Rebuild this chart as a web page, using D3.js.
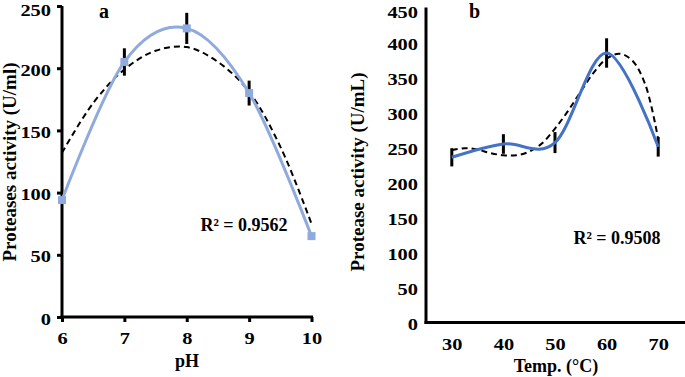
<!DOCTYPE html>
<html>
<head>
<meta charset="utf-8">
<script src="https://cdn.jsdelivr.net/npm/d3@7"></script>
<style>
  body { margin: 0; background: #fff; }
  svg { display: block; font-family: 'Liberation Serif', 'Times New Roman', serif; font-weight: bold; }
</style>
</head>
<body>
<div id="chart"></div>
<script>
// panel a: pH
const phValues = [6, 7, 8, 9, 10]
const phActivity = [94, 205, 232, 180, 65]
const phError = [0, 11, 12.5, 10, 0]
const phTrendX = [6, 6.5, 7, 7.5, 8, 8.5, 9, 9.5, 10]
const phTrendY = [132, 172, 199, 214, 217, 205, 181, 137, 75]
const phTicksY = [0, 50, 100, 150, 200, 250]

// panel b: temperature
const tempValues = [30, 40, 50, 60, 70]
const tempActivity = [236, 255, 257, 385, 251]
const tempError = [13, 14, 15, 21, 14]
const tempTrendX = [30, 32.5, 35, 37.5, 40, 42.5, 45, 47.5, 50, 52.5, 55, 57.5, 60, 62.5, 65, 67.5, 70]
const tempTrendY = [246, 249, 247, 242, 239, 239, 244, 256, 277, 302, 330, 357, 377, 384, 374, 340, 262]
const tempTicksY = [0, 50, 100, 150, 200, 250, 300, 350, 400, 450]

const W = 685
const H = 377

const svg = d3.select('#chart').append('svg')
  .attr('width', W)
  .attr('height', H)

// tick labels in the original are a bit wider than plain Times
function styleTicks (ax, vertical) {
  ax.select('.domain').remove()
  ax.selectAll('line').attr('stroke', '#000').attr('stroke-width', 3)
  ax.selectAll('text').each(function (d, i, nodes) {
    const t = d3.select(this)
    const tx = +t.attr('x') || 0
    const ty = +t.attr('y') || 0
    t.attr('x', 0).attr('y', 0)
      .attr('transform', `translate(${tx},${ty}) scale(1.2,1)`)
      .attr('fill', '#000')
      .style('font-size', '17px')
      .style('font-family', 'Liberation Serif, serif')
      .style('font-weight', 'bold')
    if (vertical) {
      // keep the top label inside the picture
      const sy = ax.node().getCTM ? 0 : 0
      t.attr('dy', i === nodes.length - 1 ? '0.58em' : '0.42em')
    }
  })
}

function drawPanel (opt) {
  const g = svg.append('g')
  const x = d3.scaleLinear().domain(opt.xDomain).range(opt.xRange)
  const y = d3.scaleLinear().domain(opt.yDomain).range(opt.yRange)

  // axes
  g.append('g')
    .attr('transform', `translate(${opt.xRange[0]},0)`)
    .call(d3.axisLeft(y).tickValues(opt.yTicks).tickSize(opt.tickLen).tickPadding(opt.yPad).tickFormat(d3.format('d')))
    .call(styleTicks, true)
  g.append('g')
    .attr('transform', `translate(0,${opt.yRange[0]})`)
    .call(d3.axisBottom(x).tickValues(opt.xTicks).tickSize(opt.tickLen).tickPadding(opt.xPad).tickFormat(d3.format('d')))
    .call(styleTicks, false)

  g.append('line')
    .attr('x1', opt.xRange[0]).attr('x2', opt.xRange[0])
    .attr('y1', opt.yRange[0] + 1.5).attr('y2', opt.yRange[1])
    .attr('stroke', '#000').attr('stroke-width', 3)
  g.append('line')
    .attr('x1', opt.xRange[0] - 1.5).attr('x2', opt.axisEnd)
    .attr('y1', opt.yRange[0]).attr('y2', opt.yRange[0])
    .attr('stroke', '#000').attr('stroke-width', 3)

  // error bars
  g.selectAll('.err')
    .data(opt.xs.map((d, i) => [d, opt.ys[i], opt.errs[i]]).filter(d => d[2] > 0))
    .enter().append('line')
    .attr('x1', d => x(d[0])).attr('x2', d => x(d[0]))
    .attr('y1', d => y(d[1] - d[2])).attr('y2', d => y(d[1] + d[2]))
    .attr('stroke', '#000').attr('stroke-width', 3)

  // trend line
  const trendLine = d3.line()
    .x(d => x(d[0]))
    .y(d => y(d[1]))
    .curve(d3.curveCatmullRom)
  g.append('path')
    .datum(opt.trendX.map((d, i) => [d, opt.trendY[i]]))
    .attr('d', trendLine)
    .attr('fill', 'none')
    .attr('stroke', '#000')
    .attr('stroke-width', 2)
    .attr('stroke-dasharray', '6,4')

  // smoothed data line
  const dataLine = d3.line()
    .x(d => x(d[0]))
    .y(d => y(d[1]))
    .curve(d3.curveCardinal.tension(0))
  g.append('path')
    .datum(opt.xs.map((d, i) => [d, opt.ys[i]]))
    .attr('d', dataLine)
    .attr('fill', 'none')
    .attr('stroke', opt.color)
    .attr('stroke-width', 3)

  if (opt.markers) {
    g.selectAll('.mk')
      .data(opt.xs.map((d, i) => [d, opt.ys[i]]))
      .enter().append('rect')
      .attr('x', d => x(d[0]) - 4)
      .attr('y', d => y(d[1]) - 4)
      .attr('width', 8)
      .attr('height', 8)
      .attr('fill', opt.color)
  }

  // labels
  g.append('text')
    .attr('transform', `translate(${opt.yTitleX},${opt.yTitleY}) rotate(-90)`)
    .attr('text-anchor', 'middle')
    .style('font-size', '19px')
    .text(opt.yTitle)
  g.append('text')
    .attr('x', opt.xTitleX)
    .attr('y', opt.xTitleY)
    .attr('text-anchor', 'middle')
    .style('font-size', '18px')
    .text(opt.xTitle)
  g.append('text')
    .attr('x', opt.letterX)
    .attr('y', 18)
    .style('font-size', '20px')
    .text(opt.letter)
  g.append('text')
    .attr('x', opt.r2X)
    .attr('y', opt.r2Y)
    .attr('text-anchor', 'middle')
    .style('font-size', '18px')
    .text(opt.r2)
}

drawPanel({
  xDomain: [6, 10],
  xRange: [62, 311.5],
  axisEnd: 313,
  yDomain: [0, 250],
  yRange: [317, 6],
  xs: phValues,
  ys: phActivity,
  errs: phError,
  trendX: phTrendX,
  trendY: phTrendY,
  xTicks: phValues,
  yTicks: phTicksY,
  tickLen: 5,
  xPad: 10,
  yPad: 6,
  color: '#8FAADC',
  markers: true,
  yTitle: 'Proteases activity (U/ml)',
  yTitleX: 16,
  yTitleY: 162,
  xTitle: 'pH',
  xTitleX: 187,
  xTitleY: 367,
  letter: 'a',
  letterX: 99,
  r2: 'R² = 0.9562',
  r2X: 244,
  r2Y: 231
})

drawPanel({
  xDomain: [25, 75],
  xRange: [426, 684],
  axisEnd: 685,
  yDomain: [0, 450],
  yRange: [322.5, 7.5],
  xs: tempValues,
  ys: tempActivity,
  errs: tempError,
  trendX: tempTrendX,
  trendY: tempTrendY,
  xTicks: tempValues,
  yTicks: tempTicksY,
  tickLen: 0,
  xPad: 15,
  yPad: 8,
  color: '#4472C4',
  markers: false,
  yTitle: 'Protease activity (U/mL)',
  yTitleX: 364,
  yTitleY: 172,
  xTitle: 'Temp. (°C)',
  xTitleX: 556,
  xTitleY: 372,
  letter: 'b',
  letterX: 469,
  r2: 'R² = 0.9508',
  r2X: 617,
  r2Y: 244
})
</script>
</body>
</html>
